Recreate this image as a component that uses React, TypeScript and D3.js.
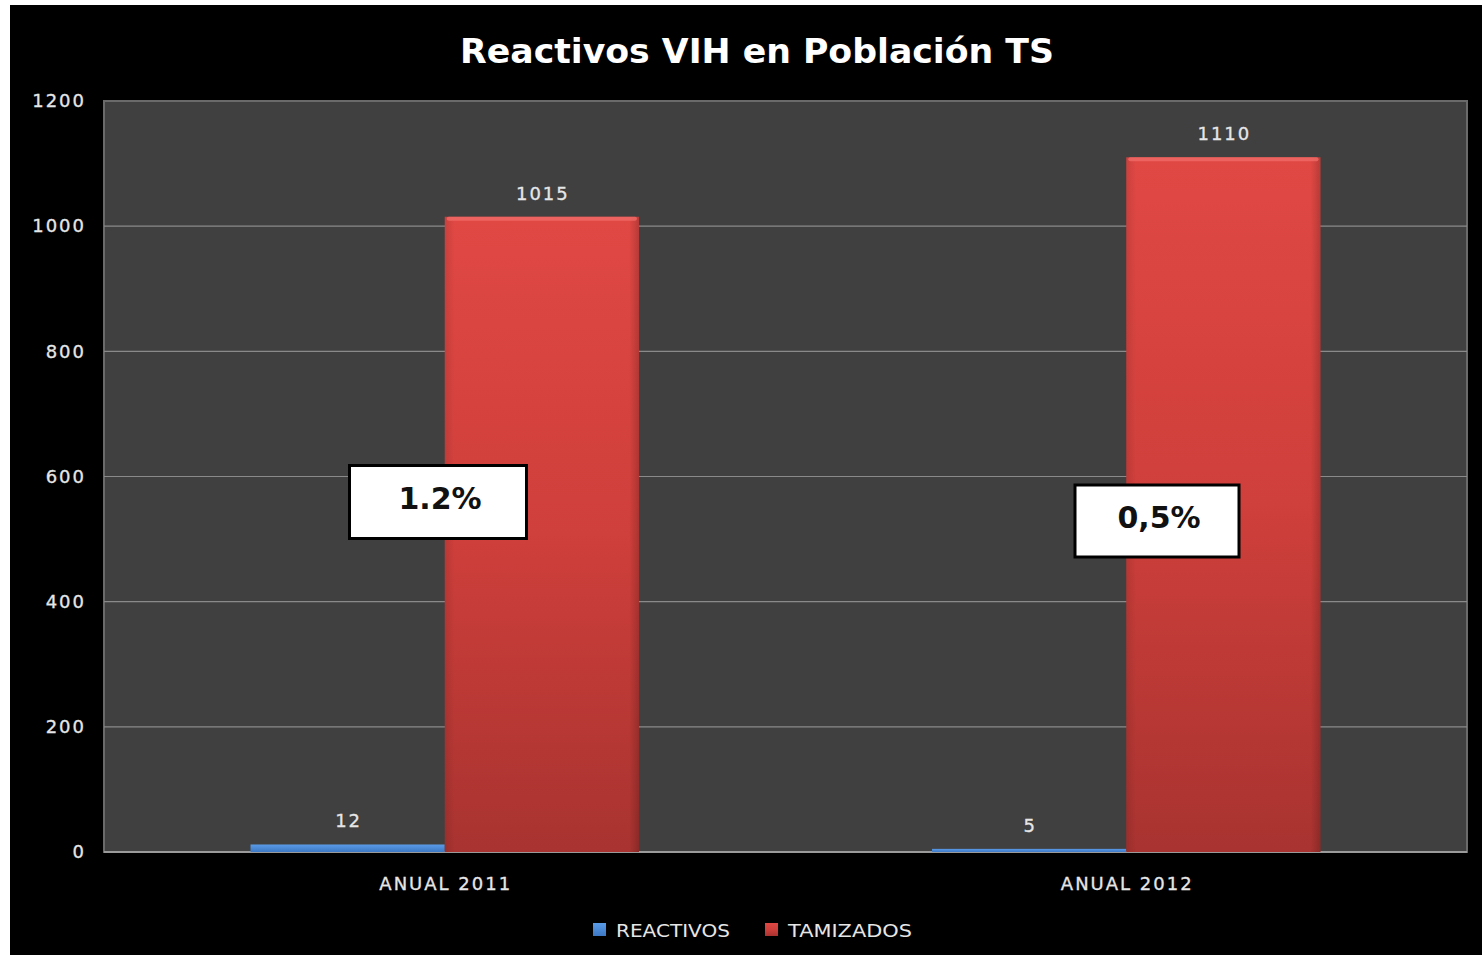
import React from "react";
import * as d3 from "d3";

const categories = ["ANUAL 2011", "ANUAL 2012"];
const seriesNames = ["REACTIVOS", "TAMIZADOS"];
const reactivos = [12, 5];
const tamizados = [1015, 1110];
const percentLabels = ["1.2%", "0,5%"];
const yTicks = [0, 200, 400, 600, 800, 1000, 1200];
const title = "Reactivos VIH en Población TS";

const W = 1482;
const H = 955;
const plot = { left: 104, right: 1467, top: 101, bottom: 852 };

export default function App() {
  const y = d3.scaleLinear().domain([0, 1200]).range([plot.bottom, plot.top]);
  const x0 = d3
    .scaleBand<string>()
    .domain(categories)
    .range([plot.left, plot.right])
    .paddingInner(0.43)
    .paddingOuter(0.215);
  const x1 = d3.scaleBand<string>().domain(seriesNames).range([0, x0.bandwidth()]).padding(0);
  const seriesValues = [reactivos, tamizados];
  const colors = ["url(#blueGrad)", "url(#redGrad)"];
  const font = "'DejaVu Sans', Verdana, sans-serif";
  const boxPos = [
    { cx: 438, cy: 502, w: 177, h: 73 },
    { cx: 1157, cy: 521, w: 164, h: 72 },
  ];

  return (
    <svg width={W} height={H} style={{ position: "absolute", left: 0, top: 0 }}>
      <defs>
        <linearGradient id="redGrad" x1="0" y1="0" x2="0" y2="1">
          <stop offset="0" stopColor="#e04844" />
          <stop offset="0.5" stopColor="#cf3f3b" />
          <stop offset="1" stopColor="#a83330" />
        </linearGradient>
        <linearGradient id="redSide" x1="0" y1="0" x2="1" y2="0">
          <stop offset="0" stopColor="#000" stopOpacity="0.1" />
          <stop offset="0.05" stopColor="#000" stopOpacity="0" />
          <stop offset="0.95" stopColor="#000" stopOpacity="0" />
          <stop offset="1" stopColor="#000" stopOpacity="0.18" />
        </linearGradient>
        <linearGradient id="blueGrad" x1="0" y1="0" x2="0" y2="1">
          <stop offset="0" stopColor="#5a9be8" />
          <stop offset="1" stopColor="#3d78c4" />
        </linearGradient>
      </defs>
      <rect x={0} y={0} width={W} height={H} fill="#ffffff" />
      <rect x={10} y={5} width={W - 10} height={H - 5} fill="#000000" />
      <text
        x={757}
        y={63}
        textAnchor="middle"
        fill="#ffffff"
        fontFamily={font}
        fontWeight="bold"
        fontSize={34}
        textLength={594}
        lengthAdjust="spacingAndGlyphs"
      >
        {title}
      </text>
      <rect
        x={plot.left}
        y={plot.top}
        width={plot.right - plot.left}
        height={plot.bottom - plot.top}
        fill="#404040"
        stroke="#6a6a6a"
        strokeWidth={2}
      />
      {yTicks.map((t) => (
        <g key={t}>
          {t > 0 && t < 1200 && (
            <line x1={plot.left} x2={plot.right} y1={y(t)} y2={y(t)} stroke="#8a8a8a" strokeWidth={1.2} />
          )}
          <text
            x={86}
            y={y(t)}
            dy="0.35em"
            textAnchor="end"
            fill="#e6e6e6"
            fontFamily={font}
            fontSize={18}
            letterSpacing={2}
            stroke="#e6e6e6"
            strokeWidth={0.3}
          >
            {t}
          </text>
        </g>
      ))}
      <line x1={plot.left} x2={plot.right} y1={plot.bottom} y2={plot.bottom} stroke="#9a9a9a" strokeWidth={2} />
      {categories.map((c, i) => (
        <g key={c}>
          {seriesNames.map((s, j) => {
            const v = seriesValues[j][i];
            const bx = (x0(c) as number) + (x1(s) as number);
            const bw = x1.bandwidth();
            const by = y(v);
            const bh = plot.bottom - by;
            return (
              <g key={s}>
                <rect x={bx} y={by} width={bw} height={bh} fill={colors[j]} />
                {j === 1 && (
                  <>
                    <rect x={bx} y={by} width={bw} height={bh} fill="url(#redSide)" />
                    <rect x={bx + 2} y={by} width={bw - 4} height={4} fill="#f06a66" opacity={0.8} rx={2} />
                  </>
                )}
                <text
                  x={bx + bw / 2 + 1}
                  y={by - 17}
                  textAnchor="middle"
                  fill="#e6e6e6"
                  fontFamily={font}
                  fontSize={18}
                  letterSpacing={2}
                  stroke="#e6e6e6"
                  strokeWidth={0.3}
                >
                  {v}
                </text>
              </g>
            );
          })}
          <text
            x={(x0(c) as number) + x0.bandwidth() / 2 + 1}
            y={890}
            textAnchor="middle"
            fill="#e6e6e6"
            fontFamily={font}
            fontSize={18}
            letterSpacing={2}
            stroke="#e6e6e6"
            strokeWidth={0.3}
          >
            {c}
          </text>
        </g>
      ))}
      {percentLabels.map((p, i) => {
        const b = boxPos[i];
        return (
          <g key={p}>
            <rect
              x={b.cx - b.w / 2}
              y={b.cy - b.h / 2}
              width={b.w}
              height={b.h}
              fill="#ffffff"
              stroke="#000000"
              strokeWidth={3}
            />
            <text
              x={b.cx + 2}
              y={b.cy - 4}
              dy="0.35em"
              textAnchor="middle"
              fill="#111111"
              fontFamily={font}
              fontWeight="bold"
              fontSize={30}
            >
              {p}
            </text>
          </g>
        );
      })}
      {seriesNames.map((s, j) => {
        const lx = [593, 765][j];
        return (
          <g key={s}>
            <rect x={lx} y={923} width={13} height={13} fill={colors[j]} />
            <text
              x={lx + 23}
              y={937}
              fill="#e6e6e6"
              fontFamily={font}
              fontSize={18}
              textLength={j === 0 ? 114 : 124}
              lengthAdjust="spacingAndGlyphs"
            >
              {s}
            </text>
          </g>
        );
      })}
    </svg>
  );
}
